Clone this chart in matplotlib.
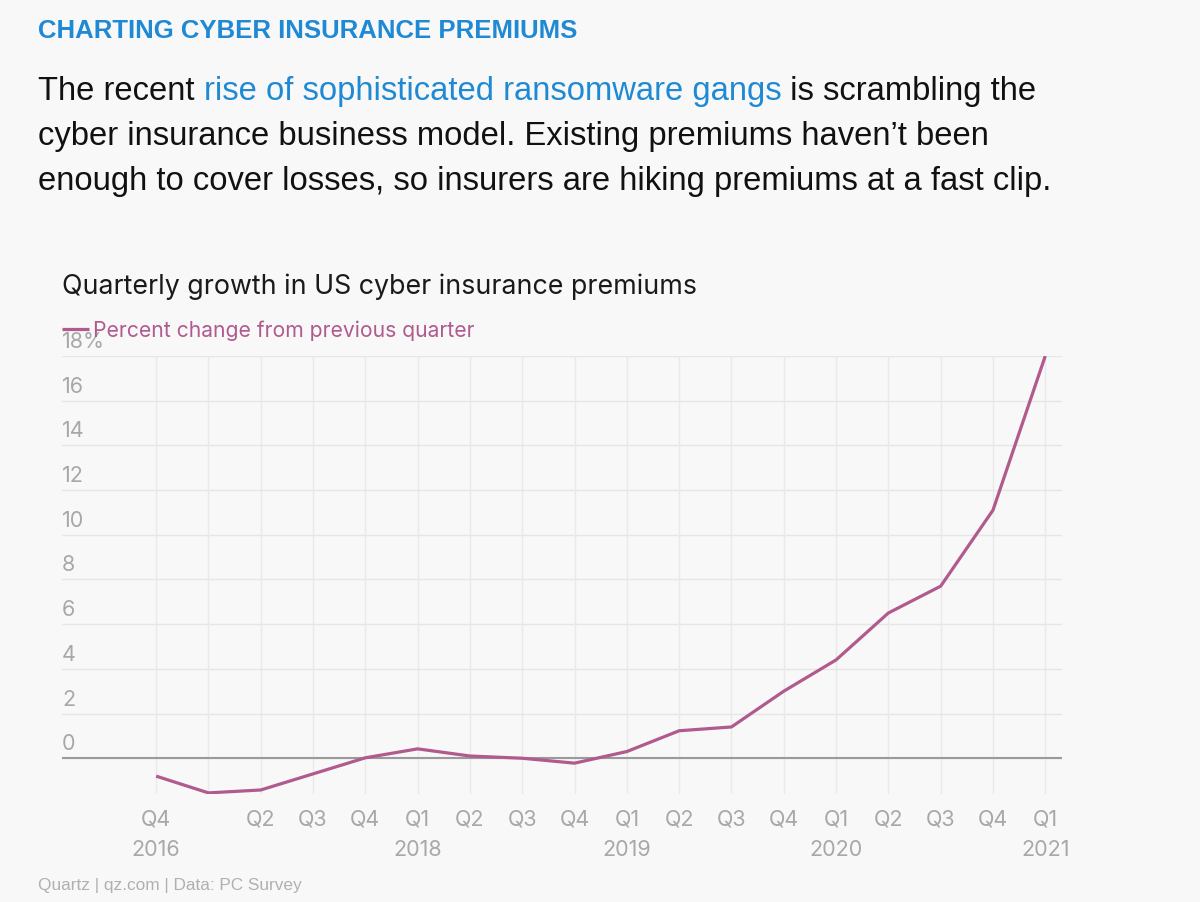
import matplotlib
matplotlib.use("Agg")
import matplotlib.pyplot as plt
from matplotlib.transforms import IdentityTransform, offset_copy, blended_transform_factory

# ---------------- data ----------------
quarter_labels = ["Q4", "", "Q2", "Q3", "Q4", "Q1", "Q2", "Q3", "Q4",
                  "Q1", "Q2", "Q3", "Q4", "Q1", "Q2", "Q3", "Q4", "Q1"]
year_label_idx = [0, 5, 9, 13, 17]
year_labels = ["2016", "2018", "2019", "2020", "2021"]
pct_change = [-0.8, -1.55, -1.42, -0.7, 0.02, 0.42, 0.1, 0.0, -0.22,
              0.3, 1.23, 1.4, 3.0, 4.4, 6.5, 7.7, 11.1, 18.0]
y_ticks = [0, 2, 4, 6, 8, 10, 12, 14, 16, 18]
y_tick_labels = ["0", "2", "4", "6", "8", "10", "12", "14", "16", "18%"]

W, H = 1200, 903
BG = "#f8f8f8"
BLUE = "#1f8ad3"
LINE = "#b05a8e"
GRAY = "#a8a8a8"
CHART_FONT = ["Inter", "DejaVu Sans"]
TEXT_FONT = ["Liberation Sans", "DejaVu Sans"]

fig = plt.figure(figsize=(W / 100, H / 100), dpi=100, facecolor=BG)
renderer = fig.canvas.get_renderer()


def measure(s, size, family, weight="normal"):
    t = fig.text(0, 0, s, fontsize=size, family=family, weight=weight)
    w = t.get_window_extent(renderer).width
    t.remove()
    return w


def fit(s, target, family, weight="normal"):
    return 20 * target / measure(s, 20, family, weight)


def width_with_spaces(s, size, family, weight="normal"):
    return measure(s + "x", size, family, weight) - measure("x", size, family, weight)


# ---------------- header ----------------
hdr = "CHARTING CYBER INSURANCE PREMIUMS"
hs = fit(hdr, 539, TEXT_FONT, "bold")
fig.text(38, H - 31, hdr, transform=IdentityTransform(), fontsize=hs,
         family=TEXT_FONT, weight="bold", color=BLUE, va="center", ha="left")

lines = [
    [("The recent ", "#111111"), ("rise of sophisticated ransomware gangs", BLUE),
     (" is scrambling the", "#111111")],
    [("cyber insurance business model. Existing premiums haven\u2019t been", "#111111")],
    [("enough to cover losses, so insurers are hiking premiums at a fast clip.", "#111111")],
]
full1 = "".join(p for p, _ in lines[0])
ps = fit(full1, 995, TEXT_FONT)
line_y = [92, 137, 182]
for ly, parts in zip(line_y, lines):
    xx = 38
    for s, c in parts:
        fig.text(xx, H - ly, s, transform=IdentityTransform(), fontsize=ps,
                 family=TEXT_FONT, color=c, va="center", ha="left")
        xx += width_with_spaces(s, ps, TEXT_FONT)

# ---------------- chart ----------------
ax_l, ax_r, ax_t, ax_b = 62, 1062, 357, 795
ax = fig.add_axes([ax_l / W, 1 - ax_b / H, (ax_r - ax_l) / W, (ax_b - ax_t) / H])
ax.set_facecolor(BG)
for sp in ax.spines.values():
    sp.set_visible(False)

x = list(range(len(pct_change)))
ax.set_xlim(-1.8, 17.32)
ax.set_ylim(-1.6, 18)

for yv in y_ticks:
    ax.axhline(yv, color="#e6e6e6", lw=1.0, zorder=0)
for xv in x:
    ax.plot([xv, xv], [-1.6, 18], color="#e9e9e9", lw=1.0, zorder=0)
ax.axhline(0, color="#9a9a9a", lw=1.5, zorder=1)

ax.plot(x, pct_change, color=LINE, lw=2.3, zorder=3, solid_capstyle="butt",
        label="Percent change from previous quarter")

ax.set_yticks([])
tick_fs = 15.5
btr = blended_transform_factory(ax.transAxes, ax.transData)
btr = offset_copy(btr, fig=fig, x=0, y=5, units="dots")
for yv, lab in zip(y_ticks, y_tick_labels):
    ax.text(0, yv, lab, transform=btr, ha="left", va="bottom", fontsize=tick_fs,
            family=CHART_FONT, color=GRAY)

ax.xaxis.remove_overlapping_locs = False
ax.set_xticks(x, quarter_labels)
ax.set_xticks(year_label_idx, year_labels, minor=True)
ax.tick_params(axis="x", which="major", length=0, pad=10.5, labelsize=tick_fs, labelcolor=GRAY)
ax.tick_params(axis="x", which="minor", length=0, pad=32.5, labelsize=tick_fs, labelcolor=GRAY)
for lab in ax.get_xticklabels(minor=False) + ax.get_xticklabels(minor=True):
    lab.set_family(CHART_FONT)

# legend
leg_txt = "Percent change from previous quarter"
ls = fit(leg_txt, 381, CHART_FONT)
leg = ax.legend(loc="center left", bbox_to_anchor=(0, 1 + 26 / (ax_b - ax_t)),
                frameon=False, handlelength=1.3, handletextpad=0.15, borderpad=0,
                borderaxespad=0, prop={"family": CHART_FONT, "size": ls})
for t in leg.get_texts():
    t.set_color(LINE)

# chart title
title = "Quarterly growth in US cyber insurance premiums"
ts = fit(title, 633, CHART_FONT)
fig.text(62, H - 287, title, transform=IdentityTransform(), fontsize=ts,
         family=CHART_FONT, color="#1a1a1a", va="center", ha="left")

# source
src = "Quartz | qz.com | Data: PC Survey"
SRC_FONT = ["Liberation Sans Narrow", "Liberation Sans", "DejaVu Sans"]
ss = fit(src, 264, SRC_FONT)
fig.text(38, H - 886, src, transform=IdentityTransform(), fontsize=ss,
         family=SRC_FONT, color="#b0b0b0", va="center", ha="left")

fig.savefig("out.png", dpi=100, facecolor=BG)
